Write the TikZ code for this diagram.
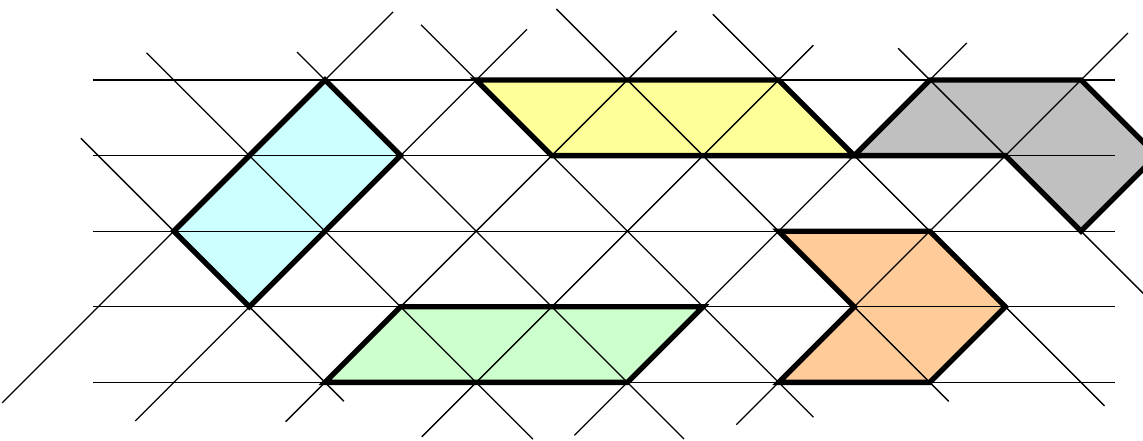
\documentclass[tikz,border=0pt]{standalone}
\definecolor{cyanfill}{RGB}{204,255,255}
\definecolor{yellowfill}{RGB}{255,255,153}
\definecolor{grayfill}{RGB}{192,192,192}
\definecolor{greenfill}{RGB}{204,255,204}
\definecolor{orangefill}{RGB}{255,204,153}
\tikzset{
  gridline/.style={line width=0.5pt, draw=black},
  border/.style={line width=2pt, draw=black, line join=miter}
}
\begin{document}
\begin{tikzpicture}
\useasboundingbox (-4.299,-4.762) rectangle (10.820,1.058);
\clip (-4.299,-4.762) rectangle (10.820,1.058);
% lattice points: column \x, row \r
\foreach \x in {-5,...,12} {
  \foreach \r in {0,...,4} {
    \coordinate (v\x r\r) at (\x,-\r);
  }
}
% fills
\fill[cyanfill]   (v0r0) -- (v1r1) -- (v-1r3) -- (v-2r2) -- cycle;
\fill[yellowfill] (v2r0) -- (v6r0) -- (v7r1) -- (v3r1) -- cycle;
\fill[grayfill]   (v7r1) -- (v8r0) -- (v10r0) -- (v11r1) -- (v10r2) -- (v9r1) -- cycle;
\fill[greenfill]  (v1r3) -- (v5r3) -- (v4r4) -- (v0r4) -- cycle;
\fill[orangefill] (v6r2) -- (v8r2) -- (v9r3) -- (v8r4) -- (v6r4) -- (v7r3) -- cycle;
% horizontal grid lines
\foreach \r in {0,...,4} {
  \draw[gridline] (-3.069,-\r) -- (10.45,-\r);
}
% rising diagonals  X = c - r
\foreach \c/\a/\b in {0/-0.9/4.27, 2/-0.67/4.51, 4/-0.65/4.52, 6/-0.46/4.72, 8/-0.49/4.70, 10/-0.62/4.56} {
  \draw[gridline] ({\c-(\a)},{-(\a)}) -- ({\c-(\b)},{-(\b)});
}
% falling diagonals  X = d + r
\foreach \d/\a/\b in {-4/0.77/4.25, -2/-0.36/4.75, 0/-0.37/4.75, 2/-0.73/4.46, 4/-0.94/4.25, 6/-0.87/4.31, 8/-0.42/3.6} {
  \draw[gridline] ({\d+(\a)},{-(\a)}) -- ({\d+(\b)},{-(\b)});
}
% outlines
\draw[border] (v0r0) -- (v1r1) -- (v-1r3) -- (v-2r2) -- cycle;
\draw[border] (v2r0) -- (v6r0) -- (v7r1) -- (v3r1) -- cycle;
\draw[border] (v7r1) -- (v8r0) -- (v10r0) -- (v11r1) -- (v10r2) -- (v9r1) -- cycle;
\draw[border] (v1r3) -- (v5r3) -- (v4r4) -- (v0r4) -- cycle;
\draw[border] (v6r2) -- (v8r2) -- (v9r3) -- (v8r4) -- (v6r4) -- (v7r3) -- cycle;
\end{tikzpicture}
\end{document}
